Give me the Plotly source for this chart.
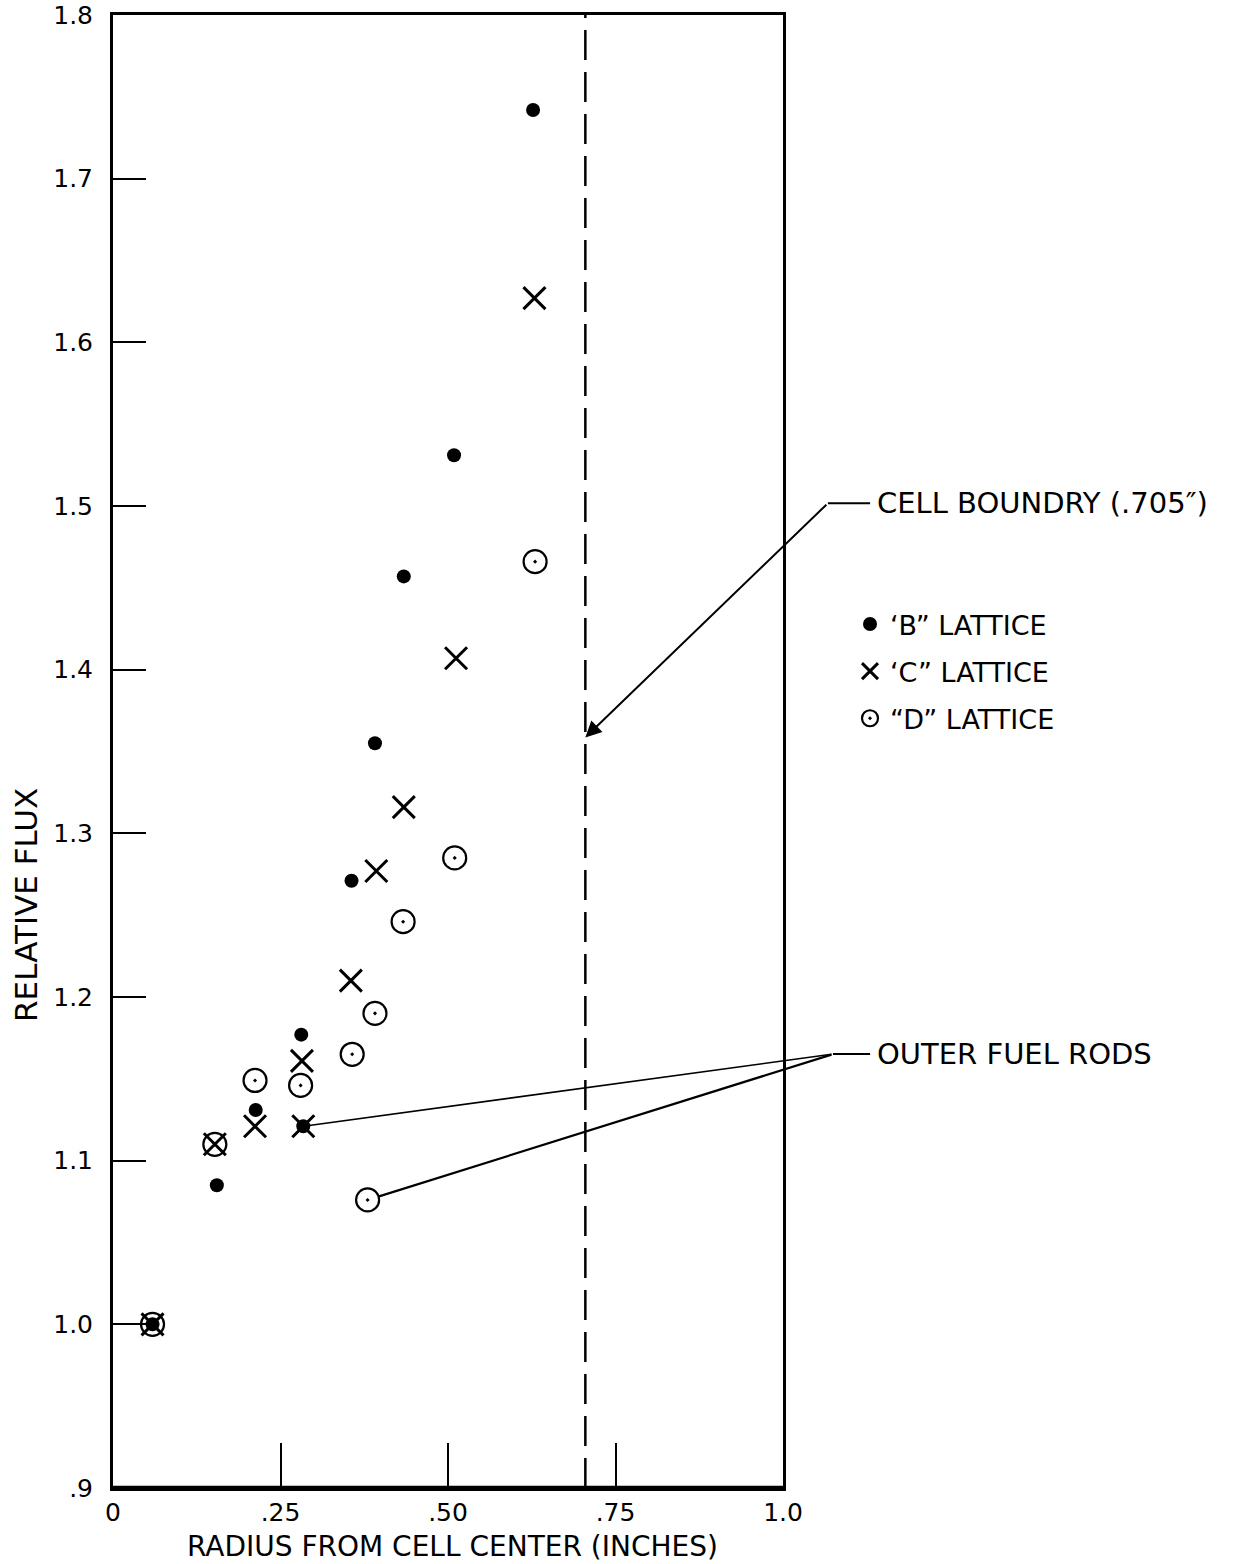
import plotly.graph_objects as go

# Relative flux vs. radius from cell center for three lattices
b_radius = [0.059, 0.155, 0.213, 0.281, 0.284, 0.356, 0.391, 0.434, 0.509, 0.627]
b_flux = [1.000, 1.085, 1.131, 1.177, 1.121, 1.271, 1.355, 1.457, 1.531, 1.742]

c_radius = [0.059, 0.152, 0.212, 0.282, 0.284, 0.355, 0.393, 0.434, 0.512, 0.629]
c_flux = [1.000, 1.110, 1.121, 1.161, 1.121, 1.210, 1.277, 1.316, 1.407, 1.627]

d_radius = [0.059, 0.152, 0.212, 0.280, 0.357, 0.391, 0.380, 0.433, 0.510, 0.630]
d_flux = [1.000, 1.110, 1.149, 1.146, 1.165, 1.190, 1.076, 1.246, 1.285, 1.466]

# Outer fuel rod positions (B/C and D lattices)
outer_bc = (0.284, 1.121)
outer_d = (0.380, 1.076)

cell_boundary = 0.705

x_ticks = [0, 0.25, 0.50, 0.75, 1.0]
x_ticktext = ["0", ".25", ".50", ".75", "1.0"]
y_ticks = [0.9, 1.0, 1.1, 1.2, 1.3, 1.4, 1.5, 1.6, 1.7, 1.8]
y_ticktext = [".9", "1.0", "1.1", "1.2", "1.3", "1.4", "1.5", "1.6", "1.7", "1.8"]

FONT = "DejaVu Sans"
INK = "black"

X_RANGE = [0, 1.0]
Y_RANGE = [0.9, 1.8]


def ypaper(v):
    return (v - Y_RANGE[0]) / (Y_RANGE[1] - Y_RANGE[0])


fig = go.Figure()

fig.add_trace(go.Scatter(
    x=b_radius, y=b_flux, mode="markers", name="‘B” LATTICE",
    legendgroup="b",
    marker=dict(symbol="circle", size=14, color=INK),
))
fig.add_trace(go.Scatter(
    x=c_radius, y=c_flux, mode="markers", name="‘C” LATTICE",
    legendgroup="c",
    marker=dict(symbol="x-thin-open", size=22, color=INK,
                line=dict(width=3, color=INK)),
))
fig.add_trace(go.Scatter(
    x=d_radius, y=d_flux, mode="markers", name="“D” LATTICE",
    legendgroup="d",
    marker=dict(symbol="circle-open-dot", size=23, color=INK,
                line=dict(width=2.2, color=INK)),
))

shapes = [
    # cell boundary
    dict(type="line", xref="x", yref="paper", x0=cell_boundary, x1=cell_boundary,
         y0=0, y1=1, line=dict(color=INK, width=2.5, dash="30px,12px")),
    # heavier bottom axis
    dict(type="line", xref="paper", yref="paper", x0=0, x1=1, y0=0, y1=0,
         line=dict(color=INK, width=4.5)),
    # leader stubs for the callouts
    dict(type="line", xref="paper", yref="paper", x0=1.067, x1=1.130,
         y0=ypaper(1.5017), y1=ypaper(1.5017), line=dict(color=INK, width=2)),
    dict(type="line", xref="paper", yref="paper", x0=1.0746, x1=1.130,
         y0=ypaper(1.1651), y1=ypaper(1.1651), line=dict(color=INK, width=2)),
]

annotations = [
    # cell boundary callout arrow
    dict(x=cell_boundary, y=1.3586, xref="x", yref="y",
         ax=1.067, ay=1.5017, axref="x", ayref="y", text="",
         showarrow=True, arrowhead=2, arrowsize=1.6, arrowwidth=2,
         arrowcolor=INK, standoff=0),
    dict(x=1.137, y=ypaper(1.5017), xref="paper", yref="paper",
         text="CELL BOUNDRY (.705″)", showarrow=False, xanchor="left",
         yanchor="middle", font=dict(family=FONT, size=29, color=INK)),
    # outer fuel rods callout
    dict(x=outer_bc[0], y=outer_bc[1], xref="x", yref="y",
         ax=1.0746, ay=1.1651, axref="x", ayref="y", text="",
         showarrow=True, arrowhead=0, arrowwidth=1.6, arrowcolor=INK, standoff=4),
    dict(x=outer_d[0], y=outer_d[1], xref="x", yref="y",
         ax=1.0746, ay=1.1651, axref="x", ayref="y", text="",
         showarrow=True, arrowhead=0, arrowwidth=2.2, arrowcolor=INK, standoff=12),
    dict(x=1.137, y=ypaper(1.1651), xref="paper", yref="paper",
         text="OUTER FUEL RODS", showarrow=False, xanchor="left",
         yanchor="middle", font=dict(family=FONT, size=29, color=INK)),
    # axis titles
    dict(x=-0.131, y=0.396, xref="paper", yref="paper", text="RELATIVE FLUX",
         textangle=-90, showarrow=False, xanchor="center", yanchor="middle",
         font=dict(family=FONT, size=31, color=INK)),
    dict(x=0.506, y=-0.0394, xref="paper", yref="paper",
         text="RADIUS FROM CELL CENTER (INCHES)", showarrow=False,
         xanchor="center", yanchor="middle", height=32,
         font=dict(family=FONT, size=28, color=INK)),
]

fig.update_layout(
    width=1239, height=1564,
    margin=dict(l=113, r=456, t=15, b=76, autoexpand=False),
    paper_bgcolor="white", plot_bgcolor="white",
    font=dict(family=FONT, color=INK),
    showlegend=True,
    legend=dict(
        x=(850 - 113) / 670, xanchor="left",
        y=(1488 - 600) / 1473, yanchor="top",
        bgcolor="rgba(0,0,0,0)", borderwidth=0,
        font=dict(family=FONT, size=27, color=INK),
        traceorder="grouped", tracegroupgap=9,
    ),
    shapes=shapes,
    annotations=annotations,
)

fig.update_xaxes(
    range=X_RANGE, tickvals=x_ticks, ticktext=x_ticktext,
    showgrid=False, zeroline=False,
    showline=True, linecolor=INK, linewidth=3, mirror=True,
    ticks="inside", ticklen=45, tickwidth=2, tickcolor=INK,
    tickfont=dict(family=FONT, size=25, color=INK),
    ticklabelstandoff=0,
)
fig.update_yaxes(
    range=Y_RANGE, tickvals=y_ticks, ticktext=y_ticktext,
    showgrid=False, zeroline=False,
    showline=True, linecolor=INK, linewidth=3, mirror=True,
    ticks="inside", ticklen=33, tickwidth=2, tickcolor=INK,
    tickfont=dict(family=FONT, size=25, color=INK),
    ticklabelstandoff=12,
)

fig.write_html("out.html")
